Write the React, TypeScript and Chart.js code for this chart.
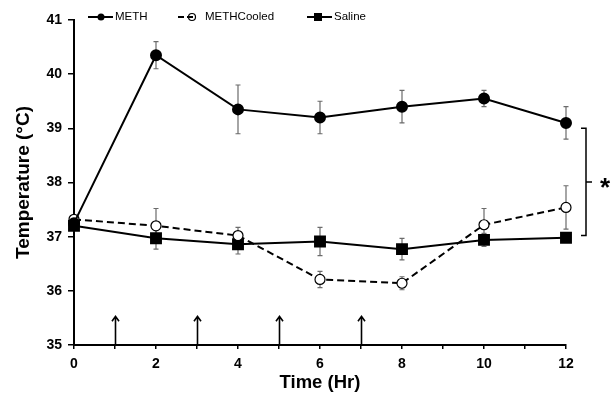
import React, { useEffect, useRef } from "react";
import { Chart, registerables } from "chart.js";

Chart.register(...registerables);

const times = [0, 2, 4, 6, 8, 10, 12];
const methMean = [37.25, 40.35, 39.35, 39.2, 39.4, 39.55, 39.1];
const methErr = [0, 0.25, 0.45, 0.3, 0.3, 0.15, 0.3];
const cooledMean = [37.32, 37.2, 37.02, 36.21, 36.14, 37.22, 37.54];
const cooledErr = [0, 0.32, 0.15, 0.15, 0.12, 0.3, 0.4];
const salineMean = [37.2, 36.97, 36.86, 36.91, 36.77, 36.94, 36.98];
const salineErr = [0, 0.2, 0.18, 0.26, 0.2, 0.12, 0.08];
const seriesNames = ["METH", "METHCooled", "Saline"];
const arrowTimes = [1, 3, 5, 7];
const arrowTop = 35.53;
const bracketRange = [37.02, 39.0];
const starLabel = "*";

const FONT = "'Liberation Sans', Arial, sans-serif";

const errorBarPlugin = {
  id: "errorBars",
  beforeDatasetsDraw(chart: any) {
    const ctx = chart.ctx;
    const x = chart.scales.x;
    const y = chart.scales.y;
    const errs = [methErr, cooledErr, salineErr];
    const means = [methMean, cooledMean, salineMean];
    ctx.save();
    ctx.strokeStyle = "#6b6b6b";
    ctx.lineWidth = 1.2;
    errs.forEach((err, di) => {
      times.forEach((t, i) => {
        if (!err[i]) return;
        const px = x.getPixelForValue(t);
        const top = y.getPixelForValue(means[di][i] + err[i]);
        const bot = y.getPixelForValue(means[di][i] - err[i]);
        ctx.beginPath();
        ctx.moveTo(px, top);
        ctx.lineTo(px, bot);
        ctx.moveTo(px - 2.5, top);
        ctx.lineTo(px + 2.5, top);
        ctx.moveTo(px - 2.5, bot);
        ctx.lineTo(px + 2.5, bot);
        ctx.stroke();
      });
    });
    ctx.restore();
  },
};

const annotPlugin = {
  id: "annot",
  afterDraw(chart: any) {
    const ctx = chart.ctx;
    const x = chart.scales.x;
    const y = chart.scales.y;
    const area = chart.chartArea;
    ctx.save();
    // arrows
    ctx.strokeStyle = "#000";
    ctx.lineWidth = 1.6;
    arrowTimes.forEach((t) => {
      const px = Math.round(x.getPixelForValue(t)) + 0.5;
      const base = y.getPixelForValue(35);
      const tip = y.getPixelForValue(arrowTop);
      ctx.beginPath();
      ctx.moveTo(px, base);
      ctx.lineTo(px, tip);
      ctx.moveTo(px - 3.5, tip + 5);
      ctx.lineTo(px, tip);
      ctx.lineTo(px + 3.5, tip + 5);
      ctx.stroke();
    });
    // bracket
    const bx = area.right + 20;
    const bt = y.getPixelForValue(bracketRange[1]);
    const bb = y.getPixelForValue(bracketRange[0]);
    const bm = (bt + bb) / 2;
    ctx.lineWidth = 1.5;
    ctx.beginPath();
    ctx.moveTo(bx - 5, bt);
    ctx.lineTo(bx, bt);
    ctx.lineTo(bx, bb);
    ctx.lineTo(bx - 5, bb);
    ctx.moveTo(bx, bm);
    ctx.lineTo(bx + 6, bm);
    ctx.stroke();
    ctx.fillStyle = "#000";
    ctx.font = `bold 26px ${FONT}`;
    ctx.textAlign = "center";
    ctx.textBaseline = "alphabetic";
    ctx.fillText(starLabel, bx + 19, bm + 14);

    // legend
    ctx.font = `11.5px ${FONT}`;
    ctx.textAlign = "left";
    ctx.textBaseline = "middle";
    const ly = 17;
    ctx.lineWidth = 2;
    // METH
    ctx.beginPath();
    ctx.moveTo(88, ly);
    ctx.lineTo(113, ly);
    ctx.stroke();
    ctx.beginPath();
    ctx.arc(101, ly, 3.5, 0, Math.PI * 2);
    ctx.fill();
    ctx.fillText(seriesNames[0], 115, ly);
    // METHCooled
    ctx.beginPath();
    ctx.moveTo(178, ly);
    ctx.lineTo(184, ly);
    ctx.moveTo(187, ly);
    ctx.lineTo(193, ly);
    ctx.stroke();
    ctx.beginPath();
    ctx.lineWidth = 1.2;
    ctx.arc(192, ly, 3.5, 0, Math.PI * 2);
    ctx.stroke();
    ctx.fillText(seriesNames[1], 205, ly);
    // Saline
    ctx.lineWidth = 2;
    ctx.beginPath();
    ctx.moveTo(307, ly);
    ctx.lineTo(332, ly);
    ctx.stroke();
    ctx.fillRect(314, ly - 4, 8, 8);
    ctx.fillText(seriesNames[2], 334, ly);
    ctx.restore();
  },
};

export default function App() {
  const ref = useRef<HTMLCanvasElement>(null);
  useEffect(() => {
    const toPts = (arr: number[]) => times.map((t, i) => ({ x: t, y: arr[i] }));
    const chart = new Chart(ref.current!, {
      type: "line",
      data: {
        datasets: [
          {
            label: seriesNames[0],
            data: toPts(methMean),
            borderColor: "#000",
            borderWidth: 2,
            pointStyle: "circle",
            pointRadius: 5,
            pointBackgroundColor: "#000",
            pointBorderColor: "#000",
            clip: false,
          },
          {
            label: seriesNames[1],
            data: toPts(cooledMean),
            borderColor: "#000",
            borderWidth: 2,
            borderDash: [7, 4],
            pointStyle: "circle",
            pointRadius: 5,
            pointBorderWidth: 1.2,
            pointBackgroundColor: "#fff",
            pointBorderColor: "#000",
            clip: false,
          },
          {
            label: seriesNames[2],
            data: toPts(salineMean),
            borderColor: "#000",
            borderWidth: 2,
            pointStyle: "rect",
            pointRadius: 7,
            pointBackgroundColor: "#000",
            pointBorderColor: "#000",
            clip: false,
          },
        ],
      },
      options: {
        responsive: false,
        animation: false,
        layout: { padding: { left: 0, top: 20, right: 45, bottom: 0 } },
        plugins: { legend: { display: false }, tooltip: { enabled: false } },
        scales: {
          x: {
            type: "linear",
            min: 0,
            max: 12,
            afterFit(s: any) {
              s.height = 49;
            },
            ticks: {
              stepSize: 1,
              autoSkip: false,
              maxRotation: 0,
              padding: 7,
              color: "#000",
              font: { family: FONT, size: 14, weight: "bold" },
              callback: (v: any) => (v % 2 === 0 ? String(v) : ""),
            },
            grid: { drawOnChartArea: false, color: "#000", tickLength: 4, lineWidth: 1.5 },
            border: { color: "#000", width: 2 },
            title: {
              display: true,
              text: "Time (Hr)",
              color: "#000",
              font: { family: FONT, size: 18.5, weight: "bold" },
              padding: { top: 0, bottom: 0 },
            },
          },
          y: {
            min: 35,
            max: 41,
            afterFit(s: any) {
              s.width = 74;
            },
            ticks: {
              stepSize: 1,
              padding: 6,
              color: "#000",
              font: { family: FONT, size: 14, weight: "bold" },
            },
            grid: { drawOnChartArea: false, color: "#000", tickLength: 6, lineWidth: 1.5 },
            border: { color: "#000", width: 2 },
            title: {
              display: true,
              text: "Temperature (°C)",
              color: "#000",
              font: { family: FONT, size: 19, weight: "bold" },
              padding: { top: 12, bottom: 0 },
            },
          },
        },
      },
      plugins: [errorBarPlugin, annotPlugin],
    });
    return () => chart.destroy();
  }, []);
  return (
    <div style={{ position: "fixed", left: 0, top: 0, width: 611, height: 394, background: "#fff" }}>
      <canvas ref={ref} width={611} height={394} />
    </div>
  );
}
